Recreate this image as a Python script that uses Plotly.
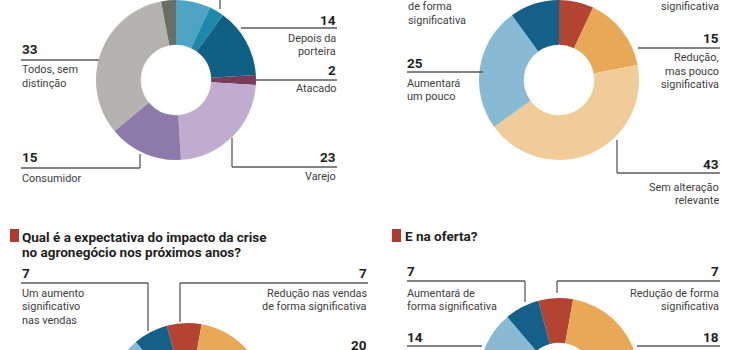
import plotly.graph_objects as go

W, H = 730, 490

# ---------------- data ----------------
tl_labels = ["Antes da porteira", "Dentro da porteira", "Depois da porteira", "Atacado",
             "Varejo", "Consumidor", "Todos, sem distinção", "Outros"]
tl_values = [7, 3, 14, 2, 23, 15, 33, 3]

tr_labels = ["Redução de forma significativa", "Redução, mas pouco significativa",
             "Sem alteração relevante", "Aumentará um pouco", "Aumentará de forma significativa"]
tr_values = [7, 15, 43, 25, 10]

bl_labels = ["Redução nas vendas de forma significativa", "Redução pouco significativa",
             "Sem alteração relevante", "Um aumento pouco significativo",
             "Um aumento significativo nas vendas"]
bl_values = [7, 20, 50, 16, 7]

br_labels = ["Redução de forma significativa", "Redução, mas pouco significativa",
             "Sem alteração relevante", "Aumentará um pouco", "Aumentará de forma significativa"]
br_values = [7, 18, 54, 14, 7]

tl_colors = ["#4da4c4", "#1e88aa", "#106084", "#7a3a5c", "#c0acce", "#8e7aaa", "#b4b3af", "#696e66"]
sc_colors = ["#b44432", "#e8a858", "#f0cc98", "#88bad4", "#146088"]

# ---------------- helpers ----------------
def px(x):
    return x / W

def py(y):
    return 1 - y / H

def dom(cx, cy, r=80):
    return dict(x=[px(cx - r), px(cx + r)], y=[py(cy + r), py(cy - r)])

FONT = "Roboto, Liberation Sans, sans-serif"
fig = go.Figure()

def pie(labels, values, colors, cx, cy, rotation=0):
    fig.add_trace(go.Pie(
        labels=labels, values=values, hole=0.44, sort=False, direction="clockwise",
        rotation=rotation, textinfo="none", showlegend=False,
        marker=dict(colors=colors, line=dict(width=0)),
        domain=dom(cx, cy)))

pie(tl_labels, tl_values, tl_colors, 176, 80)
pie(tr_labels, tr_values, sc_colors, 559, 80)
pie(bl_labels, bl_values, sc_colors, 187.5, 403, rotation=-15)
pie(br_labels, br_values, sc_colors, 559, 378, rotation=-15)

annotations = []
shapes = []

def num(text, x, y, anchor):
    annotations.append(dict(text="<b>%s</b>" % text, x=px(x), y=py(y), xref="paper", yref="paper",
                            xanchor=anchor, yanchor="middle", showarrow=False, borderpad=0,
                            font=dict(family=FONT, size=13.5, color="#1e1e1e")))

def lab(lines, x, y, anchor, step=13.5):
    for i, t in enumerate(lines):
        annotations.append(dict(text=t, x=px(x), y=py(y + i * step), xref="paper", yref="paper",
                                xanchor=anchor, yanchor="middle", showarrow=False, borderpad=0,
                                font=dict(family=FONT, size=10.9, color="#404040")))

def title(lines, x, y, step=15):
    for i, t in enumerate(lines):
        annotations.append(dict(text="<b>%s</b>" % t, x=px(x), y=py(y + i * step), xref="paper", yref="paper",
                                xanchor="left", yanchor="middle", showarrow=False, borderpad=0,
                                font=dict(family=FONT, size=13.5, color="#1e1e1e")))

def line(x0, y0, x1, y1):
    shapes.append(dict(type="line", xref="paper", yref="paper",
                       x0=px(x0), y0=py(y0), x1=px(x1), y1=py(y1),
                       line=dict(color="#5a5a5a", width=1.3)))

def square(x0, y0, x1, y1):
    shapes.append(dict(type="rect", xref="paper", yref="paper",
                       x0=px(x0), y0=py(y0), x1=px(x1), y1=py(y1),
                       fillcolor="#b03a2e", line=dict(width=0)))

# ---- top-left ----
num("33", 21, 49, "left"); line(21, 60, 99, 60); lab(["Todos, sem", "distinção"], 21, 70, "left")
num("14", 337, 20, "right"); line(241, 28, 337, 28); lab(["Depois da", "porteira"], 337, 38, "right")
num("2", 337, 70, "right"); line(255, 80, 337, 80); lab(["Atacado"], 337, 89, "right")
num("23", 337, 157, "right"); line(232, 167, 337, 167); line(232, 138, 232, 167); lab(["Varejo"], 337, 176, "right")
num("15", 21, 157, "left"); line(21, 168, 140, 168); line(140, 154, 140, 168); lab(["Consumidor"], 21, 178, "left")
line(220, -5, 220, 9)

# ---- top-right ----
lab(["de forma", "significativa"], 407, 7, "left")
num("25", 406, 63, "left"); line(407, 72, 483, 72); lab(["Aumentará", "um pouco"], 406, 83, "left")
lab(["significativa"], 720, 7, "right")
num("15", 720, 38, "right"); line(638, 48, 720, 48); lab(["Redução,", "mas pouco", "significativa"], 720, 58, "right")
num("43", 720, 164, "right"); line(617, 173, 720, 173); line(617, 140, 617, 173)
lab(["Sem alteração", "relevante"], 720, 187, "right")

# ---- bottom-left ----
square(10, 229, 19, 242)
title(["Qual é a expectativa do impacto da crise", "no agronegócio nos próximos anos?"], 21, 237)
num("7", 21, 273, "left"); line(21, 283, 148, 283); line(148, 283, 148, 331)
lab(["Um aumento", "significativo", "nas vendas"], 21, 293, "left")
num("7", 368, 273, "right"); line(180, 283, 368, 283); line(180, 283, 180, 322)
lab(["Redução nas vendas", "de forma significativa"], 368, 293, "right")
num("20", 368, 345, "right"); line(262, 355, 368, 355)

# ---- bottom-right ----
square(392, 229, 401, 242)
title(["E na oferta?"], 404, 236)
num("7", 406, 271, "left"); line(407, 281, 525, 281); line(525, 281, 525, 302)
lab(["Aumentará de", "forma significativa"], 406, 293, "left")
num("7", 720, 271, "right"); line(557, 281, 720, 281); line(557, 281, 557, 293)
lab(["Redução de forma", "significativa"], 720, 293, "right")
num("14", 406, 337, "left"); line(407, 346, 482, 346)
num("18", 720, 337, "right"); line(637, 346, 720, 346)

fig.update_layout(
    width=W, height=H, margin=dict(l=0, r=0, t=0, b=0),
    paper_bgcolor="#ffffff", plot_bgcolor="#ffffff",
    annotations=annotations, shapes=shapes,
)

fig.write_html("out.html", config={"displayModeBar": False},
               post_script="document.documentElement.style.overflow='hidden';"
                           "document.body.style.overflow='hidden';document.body.style.margin='0';")
